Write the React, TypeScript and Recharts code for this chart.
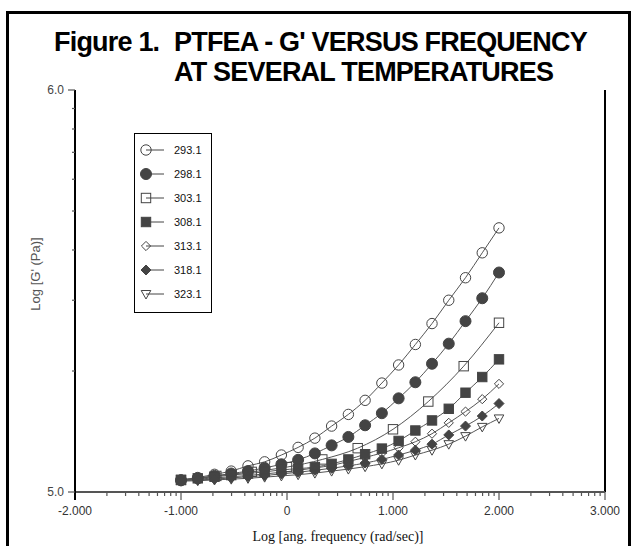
import React from "react";
import { ComposedChart, Line, XAxis, YAxis, ReferenceLine } from "recharts";

// log angular frequency, 20 points for most runs, 10 for the 303.1 run
const freq20 = [-1.0, -0.842, -0.684, -0.526, -0.368, -0.211, -0.053, 0.105, 0.263, 0.421, 0.579, 0.737, 0.895, 1.053, 1.211, 1.368, 1.526, 1.684, 1.842, 2.0];
const freq10 = [-1.0, -0.667, -0.333, 0, 0.333, 0.667, 1.0, 1.333, 1.667, 2.0];

// log G' (Pa)
const g293 = [5.030, 5.036, 5.044, 5.052, 5.065, 5.075, 5.092, 5.111, 5.134, 5.164, 5.193, 5.228, 5.271, 5.316, 5.367, 5.419, 5.477, 5.533, 5.595, 5.657];
const g298 = [5.029, 5.034, 5.040, 5.046, 5.052, 5.060, 5.069, 5.080, 5.096, 5.116, 5.137, 5.166, 5.196, 5.233, 5.273, 5.319, 5.369, 5.425, 5.482, 5.546];
const g303 = [5.030, 5.040, 5.050, 5.062, 5.081, 5.109, 5.156, 5.225, 5.313, 5.421];
const g308 = [5.030, 5.034, 5.038, 5.042, 5.046, 5.050, 5.055, 5.058, 5.062, 5.070, 5.081, 5.094, 5.108, 5.127, 5.153, 5.178, 5.207, 5.247, 5.286, 5.330];
const g313 = [5.029, 5.032, 5.035, 5.038, 5.041, 5.045, 5.049, 5.054, 5.060, 5.066, 5.076, 5.086, 5.097, 5.110, 5.125, 5.145, 5.172, 5.200, 5.231, 5.269];
const g318 = [5.028, 5.030, 5.032, 5.035, 5.038, 5.041, 5.045, 5.049, 5.054, 5.059, 5.065, 5.072, 5.081, 5.092, 5.104, 5.119, 5.142, 5.164, 5.189, 5.220];
const g323 = [5.027, 5.028, 5.030, 5.032, 5.034, 5.037, 5.040, 5.043, 5.047, 5.052, 5.057, 5.063, 5.070, 5.079, 5.092, 5.104, 5.119, 5.139, 5.162, 5.183];

const temps = ["293.1", "298.1", "303.1", "308.1", "313.1", "318.1", "323.1"];

const xMajor = [-2, -1, 0, 1, 2, 3];
const xMajorLabels = ["-2.000", "-1.000", "0", "1.000", "2.000", "3.000"];
const yMajor = [5, 6];
const yMajorLabels = ["5.0", "6.0"];
// log10(2..9) offsets for the minor ticks
const minorOffsets = [0.301, 0.477, 0.602, 0.699, 0.778, 0.845, 0.903, 0.954];

const xTicks = [...xMajor];
xMajor.slice(0, -1).forEach((d) => minorOffsets.forEach((o) => xTicks.push(d + o)));
const yTicks = [...yMajor];
minorOffsets.forEach((o) => yTicks.push(5 + o));

type Kind = "circleOpen" | "circleFilled" | "squareOpen" | "squareFilled" | "diamondOpen" | "diamondFilled" | "triangleOpen";

const series: { name: string; kind: Kind; xs: number[]; ys: number[] }[] = [
  { name: temps[0], kind: "circleOpen", xs: freq20, ys: g293 },
  { name: temps[1], kind: "circleFilled", xs: freq20, ys: g298 },
  { name: temps[2], kind: "squareOpen", xs: freq10, ys: g303 },
  { name: temps[3], kind: "squareFilled", xs: freq20, ys: g308 },
  { name: temps[4], kind: "diamondOpen", xs: freq20, ys: g313 },
  { name: temps[5], kind: "diamondFilled", xs: freq20, ys: g318 },
  { name: temps[6], kind: "triangleOpen", xs: freq20, ys: g323 },
];

const INK = "#444";
const SANS = "'Liberation Sans', Arial, sans-serif";

function Marker({ kind, cx, cy }: { kind: Kind; cx: number; cy: number }) {
  const open = { fill: "none", stroke: INK, strokeWidth: 1 };
  const solid = { fill: INK, stroke: INK, strokeWidth: 1 };
  switch (kind) {
    case "circleOpen":
      return <circle cx={cx} cy={cy} r={5.2} {...open} />;
    case "circleFilled":
      return <circle cx={cx} cy={cy} r={5.5} {...solid} />;
    case "squareOpen":
      return <rect x={cx - 4.7} y={cy - 4.7} width={9.4} height={9.4} {...open} />;
    case "squareFilled":
      return <rect x={cx - 4.7} y={cy - 4.7} width={9.4} height={9.4} {...solid} />;
    case "diamondOpen":
      return <polygon points={`${cx},${cy - 4.6} ${cx + 4.6},${cy} ${cx},${cy + 4.6} ${cx - 4.6},${cy}`} {...open} />;
    case "diamondFilled":
      return <polygon points={`${cx},${cy - 5} ${cx + 5},${cy} ${cx},${cy + 5} ${cx - 5},${cy}`} {...solid} />;
    default:
      return <polygon points={`${cx - 4.8},${cy - 3.5} ${cx + 4.8},${cy - 3.5} ${cx},${cy + 5}`} {...open} />;
  }
}

function XTick(props: any) {
  const { x, y, payload } = props;
  const i = xMajor.indexOf(payload.value);
  const major = i >= 0;
  return (
    <g>
      <line x1={x} x2={x} y1={y} y2={y + (major ? 8 : 4)} stroke={major && i === 0 ? "#000" : "#555"} strokeWidth={major && i === 0 ? 2 : 1.2} />
      {major && (
        <text x={x} y={y + 23} textAnchor="middle" fontSize={12} fill="#333" fontFamily={SANS}>
          {xMajorLabels[i]}
        </text>
      )}
    </g>
  );
}

function YTick(props: any) {
  const { x, y, payload } = props;
  const i = yMajor.indexOf(payload.value);
  const major = i >= 0;
  return (
    <g>
      <line x1={x} x2={x - (major ? 7 : 3)} y1={y} y2={y} stroke="#555" strokeWidth={1.2} />
      {major && (
        <text x={x - 11} y={y + 4} textAnchor="end" fontSize={12} fill="#444" fontFamily={SANS}>
          {yMajorLabels[i]}
        </text>
      )}
    </g>
  );
}

function LegendBox() {
  return (
    <div style={{ position: "absolute", left: 134, top: 133, width: 78, height: 180, border: "1px solid #000", boxSizing: "border-box", background: "#fff" }}>
      <svg width={76} height={178}>
        {series.map((s, i) => {
          const cy = 16 + i * 24;
          return (
            <g key={s.name}>
              <line x1={11} x2={29} y1={cy} y2={cy} stroke={INK} strokeWidth={1} />
              <Marker kind={s.kind} cx={11} cy={cy} />
              <text x={39} y={cy + 4} fontSize={11} fill="#111" fontFamily={SANS}>
                {s.name}
              </text>
            </g>
          );
        })}
      </svg>
    </div>
  );
}

export default function App() {
  const titleStyle = { fontSize: 27, fontWeight: "bold" as const, fill: "#000", fontFamily: SANS, letterSpacing: -0.8 };
  return (
    <div style={{ position: "absolute", left: 0, top: 0, width: 632, height: 546, overflow: "hidden", background: "#fff" }}>
      <ComposedChart width={632} height={546} margin={{ top: 90, right: 27, bottom: 0, left: 0 }}>
        <XAxis
          type="number"
          dataKey="x"
          domain={[-2, 3]}
          ticks={xTicks}
          interval={0}
          height={54}
          tickSize={0}
          tickMargin={0}
          tickLine={false}
          tick={<XTick />}
          axisLine={{ stroke: "#555", strokeWidth: 2 }}
          allowDataOverflow
        />
        <YAxis
          type="number"
          domain={[5, 6]}
          ticks={yTicks}
          interval={0}
          width={75}
          tickSize={0}
          tickMargin={0}
          tickLine={false}
          tick={<YTick />}
          axisLine={{ stroke: "#000", strokeWidth: 2 }}
          allowDataOverflow
        />
        <ReferenceLine x={3} stroke="#000" strokeWidth={2} />
        {series.map((s) => (
          <Line
            key={s.name}
            name={s.name}
            data={s.xs.map((x, i) => ({ x, y: s.ys[i] }))}
            dataKey="y"
            type="monotone"
            stroke="#555"
            strokeWidth={1}
            dot={(p: any) => <Marker key={p.index} kind={s.kind} cx={p.cx} cy={p.cy} />}
            activeDot={false}
            isAnimationActive={false}
          />
        ))}
      </ComposedChart>
      <LegendBox />
      <div style={{ position: "absolute", left: 6, top: 11, width: 625, height: 600, border: "3px solid #000", boxSizing: "border-box", pointerEvents: "none" }} />
      <svg width={632} height={546} style={{ position: "absolute", left: 0, top: 0, pointerEvents: "none" }}>
        <text x={54} y={51} {...titleStyle}>
          Figure 1.
        </text>
        <text x={174} y={51} {...titleStyle}>
          PTFEA - G' VERSUS FREQUENCY
        </text>
        <text x={174} y={81} {...titleStyle}>
          AT SEVERAL TEMPERATURES
        </text>
        <text x={0} y={0} transform="translate(40,274) rotate(-90)" textAnchor="middle" fontSize={13} fill="#555" fontFamily={SANS}>
          Log [G' (Pa)]
        </text>
        <text x={338} y={541} textAnchor="middle" fontSize={14} fill="#111" fontFamily="'Liberation Serif', 'Times New Roman', serif">
          Log [ang. frequency (rad/sec)]
        </text>
      </svg>
    </div>
  );
}
